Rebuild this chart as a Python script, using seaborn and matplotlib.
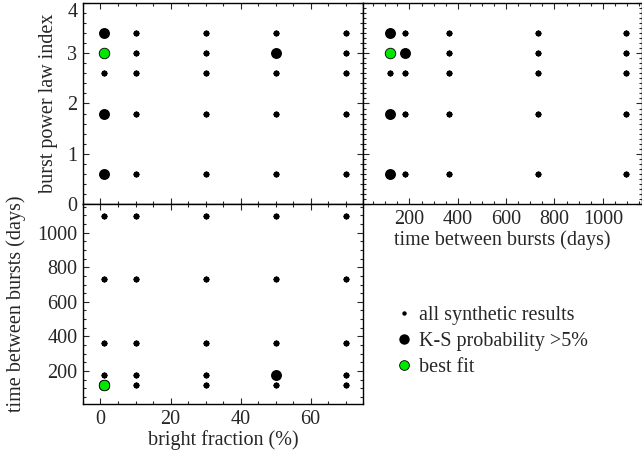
import numpy as np
import pandas as pd
import matplotlib
matplotlib.use("Agg")
import matplotlib.pyplot as plt
import seaborn as sns
from matplotlib.ticker import MultipleLocator
from matplotlib.lines import Line2D

# ---- data ----
bright_fraction = [1, 10, 30, 50, 70]          # %
time_between = [120, 180, 365, 730, 1095]      # days
power_index = [0.6, 1.8, 2.6, 3.0, 3.4]

# models with K-S probability > 5%  (bright, time, index)
ks_bright = [1, 1, 1, 50]
ks_time = [120, 120, 120, 180]
ks_index = [3.4, 1.8, 0.6, 3.0]

# best fit model
best_bright = [1]
best_time = [120]
best_index = [3.0]

grid = pd.MultiIndex.from_product(
    [bright_fraction, time_between, power_index],
    names=["bright", "time", "index"]).to_frame(index=False)
ks = pd.DataFrame({"bright": ks_bright, "time": ks_time, "index": ks_index})
best = pd.DataFrame({"bright": best_bright, "time": best_time, "index": best_index})

sns.set_style("ticks")
plt.rcParams["font.family"] = ["Liberation Serif", "DejaVu Serif"]

FS = 14.5
GREEN = "#00e800"

fig = plt.figure(figsize=(6.42, 4.58), dpi=100)
W, H = 642.0, 458.0
def box(x0, y0, x1, y1):
    return [x0 / W, 1 - y1 / H, (x1 - x0) / W, (y1 - y0) / H]

ax_tl = fig.add_axes(box(83, 3, 363, 204))
ax_tr = fig.add_axes(box(363, 3, 641.5, 204))
ax_bl = fig.add_axes(box(83, 204, 363, 404))

def draw(ax, xcol, ycol):
    sns.scatterplot(data=grid, x=xcol, y=ycol, ax=ax, color="black", s=16,
                    linewidth=0, legend=False, zorder=3)
    sns.scatterplot(data=ks, x=xcol, y=ycol, ax=ax, color="black", s=62,
                    linewidth=0, legend=False, zorder=4)
    sns.scatterplot(data=best, x=xcol, y=ycol, ax=ax, color=GREEN, s=58,
                    edgecolor="black", linewidth=0.6, legend=False, zorder=5)

draw(ax_tl, "bright", "index")
draw(ax_tr, "time", "index")
draw(ax_bl, "bright", "time")

for ax in (ax_tl, ax_tr, ax_bl):
    for sp in ax.spines.values():
        sp.set_visible(True)
        sp.set_linewidth(1.0)
        sp.set_color("black")
    ax.tick_params(which="both", direction="in", top=True, right=True,
                   labelsize=FS, pad=4, width=0.8)
    ax.tick_params(which="major", length=4.5)
    ax.tick_params(which="minor", length=2.2)
    ax.set_xlabel("")
    ax.set_ylabel("")

# top-left
ax_tl.set_xlim(-5, 75)
ax_tl.set_ylim(0, 4.0)
ax_tl.xaxis.set_major_locator(MultipleLocator(20))
ax_tl.xaxis.set_minor_locator(MultipleLocator(5))
ax_tl.set_yticks([0, 1, 2, 3, 4])
ax_tl.yaxis.set_minor_locator(MultipleLocator(0.2))
ax_tl.tick_params(labelbottom=False)
ax_tl.set_ylabel("burst power law index", fontsize=FS, labelpad=7)

# top-right
ax_tr.set_xlim(8, 1160)
ax_tr.set_ylim(0, 4.0)
ax_tr.xaxis.set_minor_locator(MultipleLocator(50))
ax_tr.yaxis.set_major_locator(MultipleLocator(1))
ax_tr.yaxis.set_minor_locator(MultipleLocator(0.1))
ax_tr.tick_params(labelleft=False)
ax_tr.set_xticks([200, 400, 600, 800, 1000])
ax_tr.set_xlabel("time between bursts (days)", fontsize=FS, labelpad=1)

# bottom-left
ax_bl.set_xlim(-5, 75)
ax_bl.set_ylim(10, 1165)
ax_bl.xaxis.set_minor_locator(MultipleLocator(5))
ax_bl.set_xticks([0, 20, 40, 60])
ax_bl.set_yticks([200, 400, 600, 800, 1000])
ax_bl.yaxis.set_minor_locator(MultipleLocator(50))
ax_bl.set_xlabel("bright fraction (%)", fontsize=FS, labelpad=1)
ax_bl.set_ylabel("time between bursts (days)", fontsize=FS, labelpad=8)

# keep the top "4" label inside the figure (as in the reference)
for lbl in ax_tl.get_yticklabels():
    if lbl.get_text() == "4":
        lbl.set_verticalalignment("top")

# legend
handles = [
    Line2D([], [], linestyle="none", marker="o", markersize=3.2,
           markerfacecolor="black", markeredgewidth=0),
    Line2D([], [], linestyle="none", marker="o", markersize=7.5,
           markerfacecolor="black", markeredgewidth=0),
    Line2D([], [], linestyle="none", marker="o", markersize=7,
           markerfacecolor=GREEN, markeredgecolor="black", markeredgewidth=0.6),
]
labels = ["all synthetic results", "K-S probability >5%", "best fit"]
fig.legend(handles, labels, loc="upper left",
           bbox_to_anchor=(396 / W, 1 - 306 / H), frameon=False,
           fontsize=FS, handlelength=0.8, handletextpad=0.35,
           labelspacing=0.33, borderpad=0, borderaxespad=0)

fig.savefig("out.png", dpi=100)
